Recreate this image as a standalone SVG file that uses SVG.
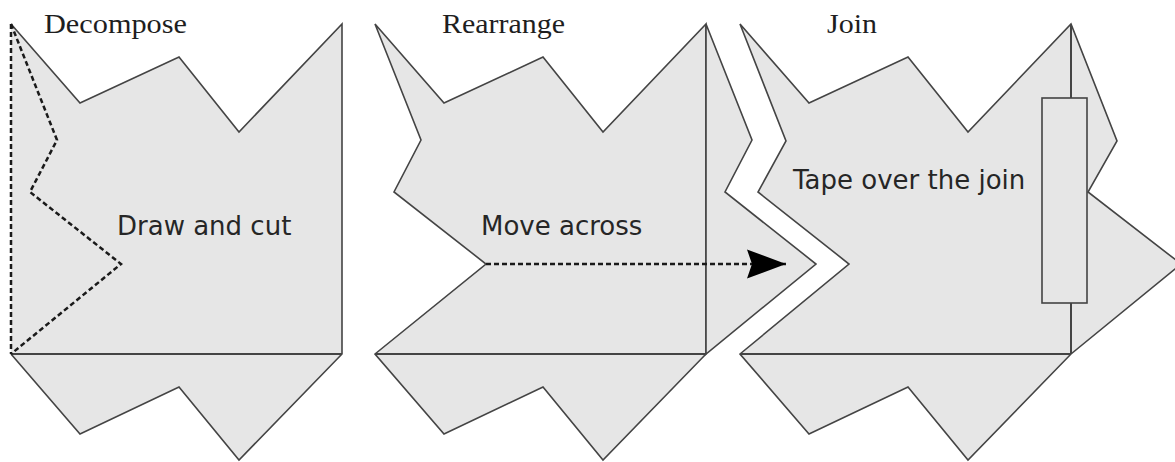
<svg xmlns="http://www.w3.org/2000/svg" width="1175" height="462" viewBox="0 0 1175 462">
  <style>
    .sheet { fill: #e6e6e6; stroke: none; }
    .edge { fill: none; stroke: #444; stroke-width: 1.6; stroke-linejoin: miter; }
    .seam { fill: none; stroke: #444; stroke-width: 2; }
    .cut { fill: none; stroke: #1a1a1a; stroke-width: 2.5; stroke-dasharray: 5 3; }
    .title { font-family: "Liberation Serif", "Times New Roman", serif; font-size: 28px; fill: #1e1e1e; }
    .label { font-family: "DejaVu Sans", Verdana, sans-serif; font-size: 26px; fill: #262626; }
  </style>
  <defs>
    <marker id="arrowhead" markerUnits="userSpaceOnUse" markerWidth="40" markerHeight="30" viewBox="0 0 40 30" refX="39" refY="15" orient="auto">
      <path d="M0,0.5 L39,15 L0,29.5 L5,15 Z" fill="#000"/>
    </marker>
  </defs>

  <!-- Step 1: a single sheet with the cut line drawn on it -->
  <g id="decompose">
    <polygon class="sheet" points="11,24 80,103 179,57 239,132 342,24 342,354 239,460 179,387 80,434 11,354"/>
    <polyline class="edge" points="11,24 80,103 179,57 239,132 342,24 342,354 239,460 179,387 80,434 11,354"/>
    <line class="seam" x1="11" y1="354" x2="342" y2="354"/>
    <line class="cut" x1="11" y1="24" x2="11" y2="354"/>
    <polyline class="cut" points="11,24 57,140 30,192 121,264 11,354"/>
    <text class="title" x="44" y="33" textLength="143" lengthAdjust="spacingAndGlyphs">Decompose</text>
    <text class="label" x="117" y="235">Draw and cut</text>
  </g>

  <!-- Step 2: the cut piece moved to the opposite side -->
  <g id="rearrange">
    <polygon class="sheet" points="375,24 444,103 543,57 603,132 706,24 706,354 603,460 543,387 444,434 375,354 486,264 394,192 421,140"/>
    <polygon class="edge" points="375,24 444,103 543,57 603,132 706,24 706,354 603,460 543,387 444,434 375,354 486,264 394,192 421,140"/>
    <polygon class="sheet" points="706,24 752,140 725,192 816,264 706,354"/>
    <polygon class="edge" points="706,24 752,140 725,192 816,264 706,354"/>
    <line class="seam" x1="375" y1="354" x2="706" y2="354"/>
    <text class="title" x="442" y="33" textLength="123" lengthAdjust="spacingAndGlyphs">Rearrange</text>
    <text class="label" x="481" y="235">Move across</text>
  </g>

  <!-- Step 3: the pieces joined and taped -->
  <g id="join">
    <polygon class="sheet" points="740,24 809,103 908,57 968,132 1071,24 1117,141 1088,192 1181,264 1071,354 968,460 908,387 809,434 740,354 849,264 758,192 786,141"/>
    <polygon class="edge" points="740,24 809,103 908,57 968,132 1071,24 1117,141 1088,192 1181,264 1071,354 968,460 908,387 809,434 740,354 849,264 758,192 786,141"/>
    <line class="seam" x1="1071" y1="24" x2="1071" y2="354"/>
    <line class="seam" x1="740" y1="354" x2="1071" y2="354"/>
    <text class="title" x="827" y="33" textLength="50" lengthAdjust="spacingAndGlyphs">Join</text>
    <text class="label" x="793" y="189">Tape over the join</text>
  </g>

  <g id="tape">
    <rect x="1042" y="98" width="45" height="205" fill="#e6e6e6" stroke="#444" stroke-width="1.6"/>
  </g>

  <!-- Movement connector -->
  <g id="connectors">
    <line class="cut" x1="486" y1="264" x2="786" y2="264" marker-end="url(#arrowhead)"/>
  </g>
</svg>
